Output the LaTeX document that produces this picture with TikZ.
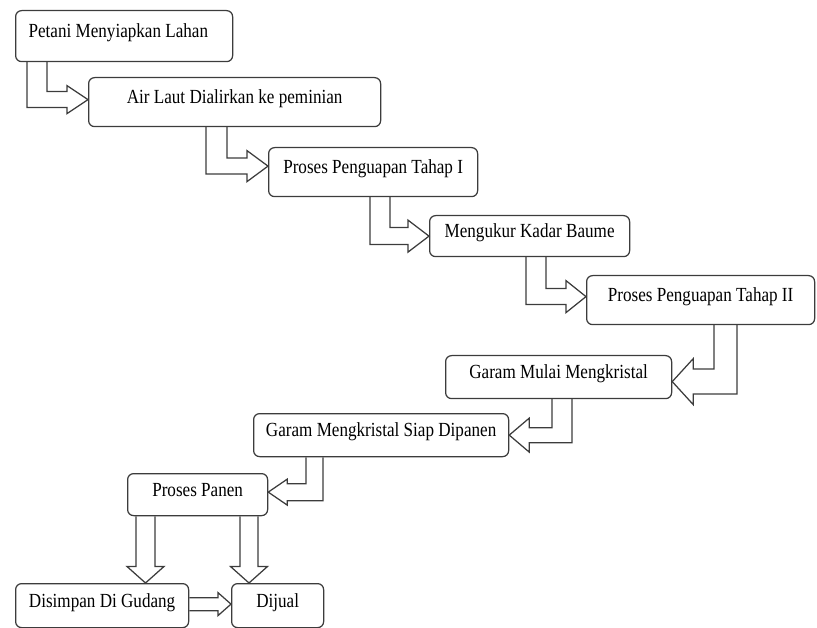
\documentclass[tikz,border=0pt]{standalone}
\usepackage{fontspec}
\setmainfont[FakeStretch=0.855]{Liberation Serif}
\usetikzlibrary{calc}
\definecolor{ln}{RGB}{60,60,60}
\tikzset{
  box/.style={draw=ln, line width=1.25pt, rounded corners=6pt, anchor=north west,
    inner sep=0pt, font=\fontsize{20}{24}\selectfont, text height=14pt, text depth=11pt},
  blk/.style={draw=ln, line width=1.25pt, line join=miter}
}
% right-going L arrow: #1 source anchor, #2 tip coordinate, #3 outer x, #4 inner x, #5 shaft half, #6 head half, #7 head length
\newcommand\rightL[7]{%
  \draw[blk] let \p1=(#2), \p2=(#1) in
    (#3pt,\y2) -- (#3pt,\y1-#5pt) -- (\x1-#7pt,\y1-#5pt) -- (\x1-#7pt,\y1-#6pt) -- (\p1)
    -- (\x1-#7pt,\y1+#6pt) -- (\x1-#7pt,\y1+#5pt) -- (#4pt,\y1+#5pt) -- (#4pt,\y2);}
% left-going L arrow
\newcommand\leftL[7]{%
  \draw[blk] let \p1=(#2), \p2=(#1) in
    (#3pt,\y2) -- (#3pt,\y1-#5pt) -- (\x1+#7pt,\y1-#5pt) -- (\x1+#7pt,\y1-#6pt) -- (\p1)
    -- (\x1+#7pt,\y1+#6pt) -- (\x1+#7pt,\y1+#5pt) -- (#4pt,\y1+#5pt) -- (#4pt,\y2);}
% down arrow: #1 source anchor, #2 tip, #3 shaft half, #4 head half, #5 head length
\newcommand\downA[5]{%
  \draw[blk] let \p1=(#2), \p2=(#1) in
    (\x1-#3pt,\y2) -- (\x1-#3pt,\y1+#5pt) -- (\x1-#4pt,\y1+#5pt) -- (\p1)
    -- (\x1+#4pt,\y1+#5pt) -- (\x1+#3pt,\y1+#5pt) -- (\x1+#3pt,\y2);}
% straight right arrow
\newcommand\rightA[5]{%
  \draw[blk] let \p1=(#2), \p2=(#1) in
    (\x2,\y1+#3pt) -- (\x1-#5pt,\y1+#3pt) -- (\x1-#5pt,\y1+#4pt) -- (\p1)
    -- (\x1-#5pt,\y1-#4pt) -- (\x1-#5pt,\y1-#3pt) -- (\x2,\y1-#3pt);}
\begin{document}
\begin{tikzpicture}[x=1pt,y=-1pt]
\useasboundingbox (0,0) rectangle (817,628);
\node[box, minimum height=51pt, inner xsep=13pt] (b1) at (15,10) {\makebox[191pt][l]{Petani Menyiapkan Lahan}};
\node[box, minimum width=292pt, minimum height=49pt] (b2) at (88,77) {Air Laut Dialirkan ke peminian};
\node[box, minimum width=209pt, minimum height=49pt] (b3) at (268,147) {Proses Penguapan Tahap I};
\node[box, minimum width=200pt, minimum height=41pt] (b4) at (429,215) {Mengukur Kadar Baume};
\node[box, minimum width=228pt, minimum height=49pt] (b5) at (586,275) {Proses Penguapan Tahap II};
\node[box, minimum width=226pt, minimum height=43pt] (b6) at (445,355) {Garam Mulai Mengkristal};
\node[box, minimum width=255pt, minimum height=43pt] (b7) at (253,413) {Garam Mengkristal Siap Dipanen};
\node[box, minimum width=140pt, minimum height=42pt] (b8) at (127,473) {Proses Panen};
\node[box, minimum width=173pt, minimum height=44pt] (b9) at (15,583) {Disimpan Di Gudang};
\node[box, minimum width=92pt, minimum height=44pt] (b10) at (231,583) {Dijual};

\rightL{b1.south}{[yshift=2.5pt]b2.west}{27}{47}{8}{14}{21}
\rightL{b2.south}{[yshift=6pt]b3.west}{206}{227}{8}{15.5}{21}
\rightL{b3.south}{b4.west}{370}{390}{8.5}{16}{21}
\rightL{b4.south}{[yshift=3.5pt]b5.west}{526}{546}{8}{16}{20}
\leftL{b5.south}{[yshift=-4.5pt]b6.east}{737}{714}{12.5}{23}{21}
\leftL{b6.south}{b7.east}{572}{552}{7.5}{17}{20}
\leftL{b7.south}{[yshift=2.5pt]b8.east}{323}{306}{8.5}{13}{19}
\downA{b8.south}{145.5,0 |- b9.north}{9.5}{18.5}{16.5}
\downA{b8.south}{249,0 |- b10.north}{9}{18.5}{16.5}
\rightA{b9.east}{[yshift=1.5pt]b10.west}{6.5}{11.5}{13}
\end{tikzpicture}
\end{document}
